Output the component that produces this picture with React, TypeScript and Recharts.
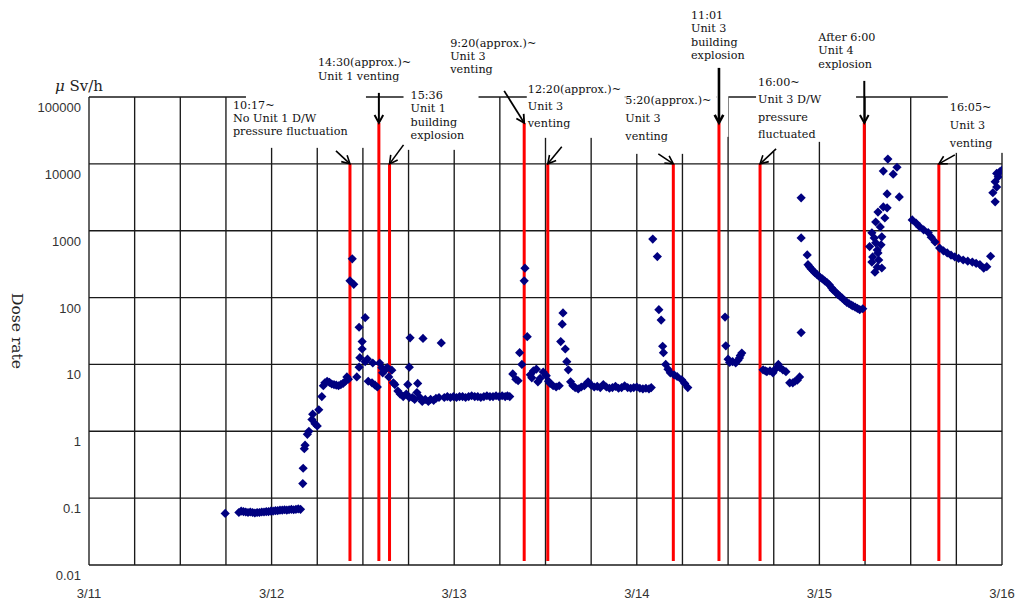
import React from 'react';
import { ScatterChart, Scatter, XAxis, YAxis, CartesianGrid, ReferenceLine } from 'recharts';

// time = hours after 3/11 0:00, dose rate in µSv/h
const mar11Night: [number, number][] = [
  [17.9, 0.059], [19.7, 0.061], [20.0, 0.064], [20.3, 0.063], [20.6, 0.062], [20.9, 0.061],
  [21.2, 0.062], [21.5, 0.061], [21.8, 0.06], [22.1, 0.061], [22.4, 0.061], [22.7, 0.062],
  [23.0, 0.062], [23.3, 0.063], [23.6, 0.063], [23.9, 0.064], [24.2, 0.064], [24.5, 0.065],
  [24.8, 0.065], [25.1, 0.066], [25.4, 0.066], [25.7, 0.067], [26.0, 0.066], [26.3, 0.067],
  [26.6, 0.068], [26.9, 0.067], [27.2, 0.068], [27.5, 0.069], [27.8, 0.068],
];

const mar12: [number, number][] = [
  [28.1, 0.165], [28.15, 0.28], [28.3, 0.55], [28.4, 0.62], [28.7, 0.9], [28.9, 1.0], [29.3, 1.5],
  [29.4, 1.8], [29.7, 1.3], [30.0, 1.2], [30.2, 2.1], [30.6, 3.3], [30.8, 4.8],
  [31.0, 5.3], [31.3, 5.6], [31.6, 5.4], [31.9, 5.1], [32.2, 5.0], [32.5, 4.9], [32.8, 4.8],
  [33.1, 5.0], [33.4, 5.2], [33.7, 5.6], [33.9, 6.5], [34.1, 6.0],
  [34.3, 178], [34.6, 380], [34.8, 158], [35.2, 6.5], [35.5, 9.1], [35.6, 12.6], [35.9, 17],
  [35.9, 22], [35.5, 36], [36.3, 50], [36.3, 11], [36.6, 12], [37.3, 10.5], [36.7, 5.6],
  [37.2, 5.3], [37.6, 4.9], [37.9, 4.6], [38.2, 10.5], [38.5, 8.9], [38.6, 7.5], [38.9, 8.2],
  [39.2, 9.0], [39.4, 6.5], [39.8, 8.2], [40.0, 5.3], [40.2, 5.0], [40.6, 4.0], [40.9, 3.6],
  [41.3, 3.3], [41.7, 3.6], [41.9, 5.0], [42.1, 9.1], [42.2, 25], [42.1, 3.2], [42.5, 3.2],
  [42.8, 3.0], [43.1, 3.8], [43.2, 5.2], [43.5, 3.2], [43.8, 2.8], [43.9, 24.5], [44.2, 3.0],
  [44.6, 2.8], [44.9, 3.0], [45.3, 2.9], [46.3, 21],
];

const mar13: [number, number][] = [
  [45.6, 3.1], [46.0, 3.2], [46.7, 3.2], [47.1, 3.3], [47.5, 3.2], [47.9, 3.3], [48.3, 3.2],
  [48.7, 3.3], [49.1, 3.3], [49.5, 3.2], [49.9, 3.3], [50.3, 3.4], [50.7, 3.3], [51.1, 3.3],
  [51.5, 3.2], [51.9, 3.3], [52.3, 3.4], [52.7, 3.3], [53.1, 3.3], [53.5, 3.4], [53.9, 3.3],
  [54.3, 3.4], [54.7, 3.3], [55.0, 3.4], [55.3, 3.3],
  [55.7, 7.2], [56.1, 6.0], [56.4, 5.7], [56.6, 15], [56.9, 10], [57.2, 178], [57.3, 275],
  [57.6, 26], [58.0, 7.0], [58.2, 6.3], [58.4, 8.0], [58.8, 8.5], [59.0, 5.5], [59.3, 6.2],
  [59.7, 7.7], [60.1, 6.8], [60.4, 5.6], [60.6, 5.2], [61.0, 4.8], [61.4, 4.6], [61.8, 4.8],
  [62.0, 22], [62.2, 40], [62.3, 59], [62.6, 17], [62.8, 11], [63.0, 8.3], [63.3, 5.5], [63.6, 4.8],
  [63.9, 4.5], [64.3, 4.3], [64.7, 4.6], [65.1, 4.8], [65.6, 5.5], [66.0, 4.9], [66.4, 4.6],
  [66.8, 4.7], [67.2, 4.5], [67.6, 5.0], [68.0, 4.6], [68.4, 4.4], [68.8, 4.5], [69.2, 4.7],
  [69.6, 4.4], [70.0, 4.5], [70.4, 4.8], [70.8, 4.5], [71.2, 4.4], [71.6, 4.5], [72.0, 4.6],
  [72.4, 4.4], [72.8, 4.3], [73.2, 4.4], [73.6, 4.3], [73.9, 4.5],
];

const mar14: [number, number][] = [
  [74.1, 750], [74.7, 410], [74.9, 66], [75.2, 46], [75.4, 18.7], [75.5, 15], [75.8, 10],
  [76.1, 8.5], [76.4, 7.5], [76.9, 7.0], [77.3, 6.6], [77.9, 5.9], [78.3, 5.2], [78.7, 4.5],
  [83.6, 51], [83.7, 19], [84.0, 12], [84.2, 10.7], [84.6, 11], [85.0, 10.5], [85.3, 11.5],
  [85.5, 12.5], [85.6, 13.6], [85.8, 14.8],
  [88.6, 8.3], [88.9, 8.0], [89.1, 7.8], [89.5, 8.0], [89.9, 7.5], [90.2, 8.5], [90.6, 10],
  [90.8, 9.0], [91.2, 8.3], [91.6, 7.8], [92.1, 5.3], [92.5, 5.3], [92.8, 5.6], [93.1, 5.8],
  [93.4, 6.5], [93.6, 30], [93.6, 780], [93.6, 3100], [94.4, 435],
  [94.5, 310], [94.7, 290], [94.9, 270], [95.2, 250], [95.4, 235], [95.7, 220], [96.1, 200],
  [96.4, 190], [96.7, 178], [97.0, 168], [97.3, 155], [97.6, 140], [97.8, 130], [98.1, 122],
  [98.4, 112], [98.7, 105], [99.0, 98], [99.3, 91], [99.6, 85], [99.9, 81], [100.2, 77],
  [100.4, 75], [100.7, 72], [101.0, 69], [101.3, 66], [101.7, 68],
];

const mar15: [number, number][] = [
  [105.0, 11800], [104.4, 7800], [105.7, 7000], [106.2, 8900], [104.9, 3550], [106.5, 3200],
  [103.7, 1900], [104.4, 2270], [104.9, 2200], [103.4, 1350], [104.0, 1140], [104.6, 1550],
  [102.9, 930], [103.2, 780], [104.2, 810], [102.6, 580], [103.6, 515], [103.0, 405],
  [102.9, 340], [103.8, 365], [103.6, 285], [103.3, 240], [104.2, 277], [103.7, 465],
  [104.1, 615], [103.4, 660],
  [108.2, 1450], [108.7, 1300], [109.2, 1140], [109.7, 1030], [110.3, 940], [110.7, 800],
  [111.2, 680], [111.8, 550], [112.3, 500], [112.8, 465], [113.3, 430], [113.8, 405],
  [114.3, 385], [114.9, 365], [115.5, 350], [116.1, 340], [116.6, 325], [117.1, 310],
  [117.6, 275], [118.0, 290], [118.5, 415],
  [119.1, 2700], [118.8, 3700], [119.3, 4500], [119.1, 5400], [119.5, 6400], [119.7, 7600],
  [120.0, 8100], [119.3, 7200],
];

const hourTicks = [0, 6, 12, 18, 24, 30, 36, 42, 48, 54, 60, 66, 72, 78, 84, 90, 96, 102, 108, 114, 120];
const dayLabels = ['3/11', '3/12', '3/13', '3/14', '3/15', '3/16'];
const doseTicks = [0.01, 0.1, 1, 10, 100, 1000, 10000, 100000];
const doseTickLabels = ['0.01', '0.1', '1', '10', '100', '1000', '10000', '100000'];

// plant events (hours after 3/11 0:00), red line top value
const eventHours = [34.3, 38.1, 39.5, 57.2, 60.3, 76.8, 82.8, 88.2, 101.9, 111.7];
const eventTops = [10000, 41000, 10000, 41000, 10000, 10000, 41000, 10000, 41000, 10000];
const eventNotes = [
  ['10:17~', 'No Unit 1 D/W', 'pressure fluctuation'],
  ['14:30(approx.)~', 'Unit 1 venting'],
  ['15:36', 'Unit 1', 'building', 'explosion'],
  ['9:20(approx.)~', 'Unit 3', 'venting'],
  ['12:20(approx.)~', 'Unit 3', 'venting'],
  ['5:20(approx.)~', 'Unit 3', 'venting'],
  ['11:01', 'Unit 3', 'building', 'explosion'],
  ['16:00~', 'Unit 3 D/W', 'pressure', 'fluctuated'],
  ['After 6:00', 'Unit 4', 'explosion'],
  ['16:05~', 'Unit 3', 'venting'],
];

// note placement relative to the top of each red line (px)
const noteLayout = [
  { dx: -117, dy: -55, lh: 13, tail: [-14, -13], w: 1.6, boxes: [[-104, -74, 120, 58]] },
  { dx: -61, dy: -57, lh: 14, tail: [0, -30], w: 2, boxes: [] },
  { dx: 21, dy: -65, lh: 13.5, tail: [14, -19], w: 1.6, boxes: [[14, -72, 75, 58]] },
  { dx: -74, dy: -76, lh: 13, tail: [-20, -32], w: 1.8, boxes: [] },
  { dx: -20, dy: -71, lh: 17, tail: [14, -17], w: 1.6, boxes: [[-21, -72, 98, 46]] },
  { dx: -48, dy: -60, lh: 18, tail: [-15, -10], w: 1.6, boxes: [[-48, -73, 91, 63], [43, -73, 12, 46]] },
  { dx: -28, dy: -104, lh: 13.5, tail: [0, -55], w: 2.6, boxes: [] },
  { dx: -2, dy: -78, lh: 17.5, tail: [16, -15], w: 1.6, boxes: [[-4, -73, 44, 61], [40, -73, 56, 51]] },
  { dx: -46, dy: -82, lh: 13.5, tail: [0, -42], w: 2, boxes: [] },
  { dx: 11, dy: -53, lh: 18, tail: [16, -9], w: 1.6, boxes: [[9, -72, 82, 61]] },
];

const doseData = [...mar11Night, ...mar12, ...mar13, ...mar14, ...mar15].map(([h, v]) => ({ h, v }));

const serif = '"DejaVu Serif", serif';
const sans = '"Liberation Sans", Arial, sans-serif';

const Diamond = (props: any) => {
  const { cx, cy } = props;
  if (cx == null || cy == null) return null;
  const r = 4.6;
  return <path d={`M${cx},${cy - r}L${cx + r},${cy}L${cx},${cy + r}L${cx - r},${cy}Z`} fill="#000080" />;
};

const YTick = (props: any) => {
  const { y, payload } = props;
  const i = doseTicks.indexOf(payload.value);
  return (
    <text x={81} y={y + 15} textAnchor="end" fontFamily={sans} fontSize={13} fill="#333">
      {i >= 0 ? doseTickLabels[i] : ''}
    </text>
  );
};

const XTick = (props: any) => {
  const { x, payload } = props;
  if (payload.value % 24 !== 0) return null;
  return (
    <text x={x} y={598} textAnchor="middle" fontFamily={sans} fontSize={13} fill="#333">
      {dayLabels[payload.value / 24]}
    </text>
  );
};

const noteLabel = (i: number) => (props: any) => {
  const vb = props.viewBox || {};
  const x = vb.x;
  const y = vb.y;
  if (x == null || y == null) return null;
  const lay = noteLayout[i];
  const tx = x + lay.tail[0];
  const ty = y + lay.tail[1];
  const ang = Math.atan2(y - ty, x - tx);
  const len = 9;
  const a1 = ang + Math.PI - 0.5;
  const a2 = ang + Math.PI + 0.5;
  return (
    <g>
      {lay.boxes.map((b, k) => (
        <rect key={k} x={x + b[0]} y={y + b[1]} width={b[2]} height={b[3]} fill="#fff" />
      ))}
      <line x1={tx} y1={ty} x2={x} y2={y} stroke="#000" strokeWidth={lay.w} />
      <polyline
        points={`${x + len * Math.cos(a1)},${y + len * Math.sin(a1)} ${x},${y} ${x + len * Math.cos(a2)},${y + len * Math.sin(a2)}`}
        fill="none" stroke="#000" strokeWidth={lay.w}
      />
      <text fontFamily={serif} fontSize={11.2} fill="#111">
        {eventNotes[i].map((t, k) => (
          <tspan key={k} x={x + lay.dx} y={y + lay.dy + k * lay.lh}>{t}</tspan>
        ))}
      </text>
    </g>
  );
};

const App: React.FC = () => {
  return (
    <div style={{ position: 'absolute', left: 0, top: 0, width: 1021, height: 603, background: '#fff' }}>
      <ScatterChart width={1021} height={603} margin={{ top: 97, right: 19, bottom: 8, left: 0 }}>
        <CartesianGrid stroke="#1a1a1a" strokeWidth={1.35} />
        <XAxis type="number" dataKey="h" domain={[0, 120]} ticks={hourTicks} interval={0}
               axisLine={false} tickLine={false} height={30} tick={<XTick />} allowDataOverflow />
        <YAxis type="number" dataKey="v" scale="log" domain={[0.01, 100000]} ticks={doseTicks} interval={0}
               axisLine={false} tickLine={false} width={89} tick={<YTick />} allowDataOverflow />
        {eventHours.map((h, i) => (
          <ReferenceLine key={i}
            segment={[{ x: h, y: 0.0115 }, { x: h, y: eventTops[i] }]}
            stroke="#ff0000" strokeWidth={3} label={noteLabel(i)} />
        ))}
        <Scatter data={doseData} shape={<Diamond />} isAnimationActive={false} />
      </ScatterChart>
      <svg width={1021} height={603} style={{ position: 'absolute', left: 0, top: 0, pointerEvents: 'none' }}>
        <text x={55} y={91} fontFamily={serif} fontSize={15} fill="#222">
          <tspan fontStyle="italic">μ</tspan> Sv/h
        </text>
        <text transform="translate(12, 331) rotate(90)" textAnchor="middle" fontFamily={serif} fontSize={15.5} fill="#222">
          Dose rate
        </text>
      </svg>
    </div>
  );
};

export default App;
